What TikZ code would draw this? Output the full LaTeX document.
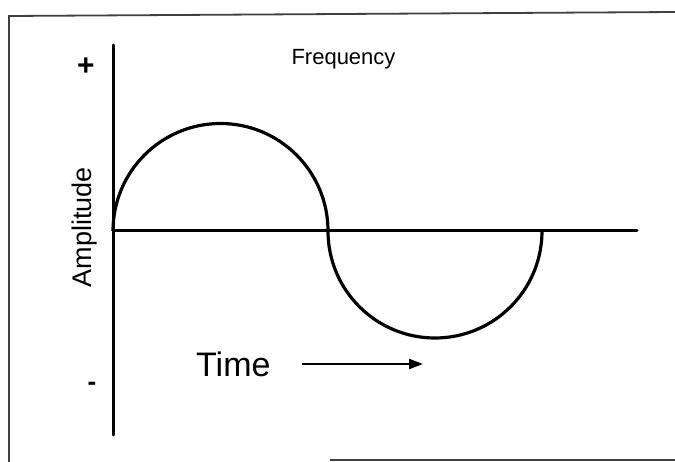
\documentclass[tikz,border=0pt]{standalone}
\usepackage{fontspec}
\setmainfont{Liberation Sans}
\usetikzlibrary{arrows.meta}

\begin{document}
\begin{tikzpicture}[x=1pt,y=-1pt,
    eje/.style={line width=3pt,line cap=round},
    onda/.style={line width=3.2pt},
    marco/.style={line width=1.8pt,black!75}]
      \useasboundingbox (0,0) rectangle (675,462);
      % marco
      \draw[marco] (9,462) -- (9,16) -- (675,12);
      \draw[marco] (330,460) -- (675,460);
      % ejes
      \coordinate (ytop) at (113,45);
      \coordinate (ybot) at (113,435);
      \coordinate (o) at (113,231);
      \coordinate (xend) at (637,231);
      \draw[eje] (ytop) -- (ybot);
      \draw[eje] (o) -- (xend);
      % onda
      \draw[onda] (o) arc[start angle=180,end angle=0,radius=107.5pt]
        arc[start angle=180,end angle=360,radius=107pt];
      % rotulos
      \node[anchor=base,inner sep=0pt,font=\fontsize{22}{26}\selectfont]
        (freq) at (343.5,65) {Frequency};
      \node[inner sep=0pt,font=\bfseries\fontsize{30}{34}\selectfont]
        (mas) at (86,67) {+};
      \node[inner sep=0pt,font=\bfseries\fontsize{26}{30}\selectfont]
        (menos) at (92,386) {-};
      \node[rotate=90,inner sep=0pt,font=\fontsize{27}{31}\selectfont]
        (ampl) at (85,227) {Amplitude};
      \node[anchor=base west,inner sep=0pt,font=\fontsize{34}{38}\selectfont]
        (tiempo) at (196,377) {Time};
      % flecha del tiempo
      \coordinate (ta) at (302,364);
      \coordinate (tb) at (423,364);
      \draw[line width=2.2pt,-{Triangle[length=14pt,width=10pt]}] (ta) -- (tb);
    \end{tikzpicture}
\end{document}
